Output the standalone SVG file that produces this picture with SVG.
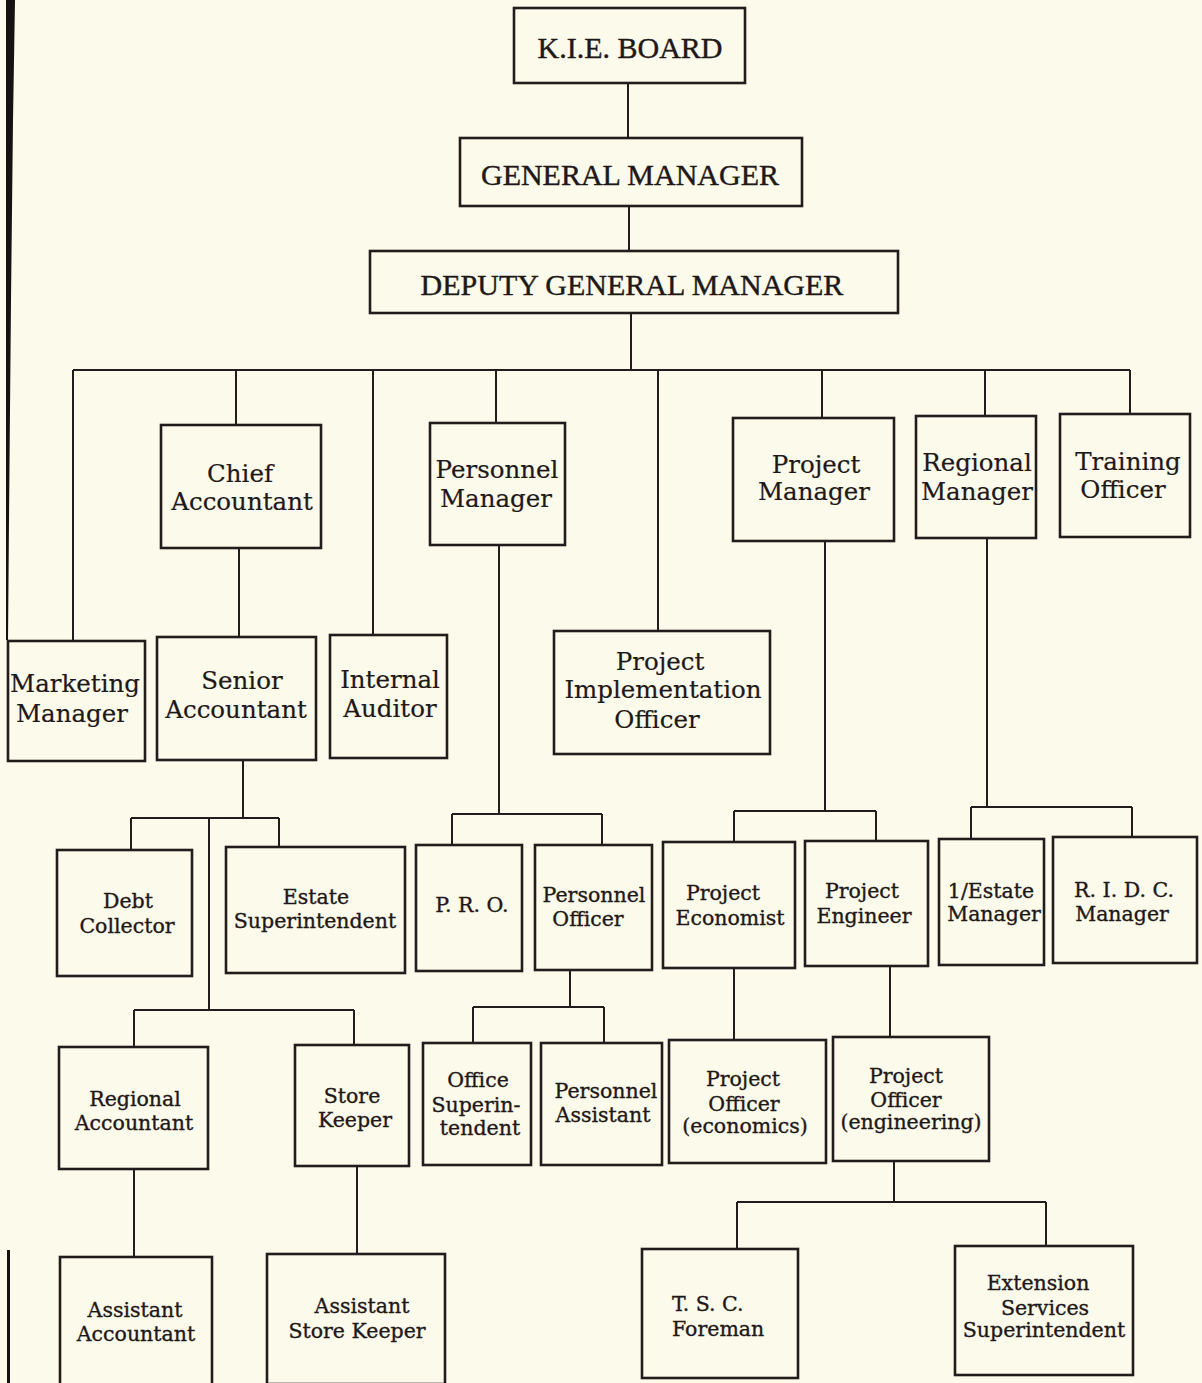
<svg xmlns="http://www.w3.org/2000/svg" width="1202" height="1383" viewBox="0 0 1202 1383">
<style>
.bx{fill:none;stroke:#231c1c;stroke-width:2.6}
.cn{fill:none;stroke:#231c1c;stroke-width:2}
.cap{font-family:"Liberation Serif","Times New Roman",serif;font-size:30px;fill:#1e1818;stroke:#1e1818;stroke-width:0.4;text-anchor:middle}
.t1{font-family:"DejaVu Serif","Liberation Serif",serif;font-size:24.5px;fill:#1e1818;stroke:#1e1818;stroke-width:0.2;text-anchor:middle}
.t2{font-family:"DejaVu Serif","Liberation Serif",serif;font-size:20.5px;fill:#1e1818;stroke:#1e1818;stroke-width:0.35;text-anchor:middle}
</style>
<rect x="0" y="0" width="1202" height="1383" fill="#fcfaea"/>
<path d="M6,0 L15,0 L13,120 L11,300 L9,520 L8,640 L6,640 Z" fill="#161212"/>
<path d="M7,1250 L10,1250 L10,1383 L7,1383 Z" fill="#161212"/>
<g id="connectors">
<path class="cn" d="M628,83 V138 M629,205 V251 M631,313 V370 M73,370 H1130"/>
<path class="cn" d="M73,370 V641 M236,370 V425 M373,370 V635 M496,370 V423 M658,370 V631 M822,370 V418 M985,370 V416 M1130,370 V414"/>
<path class="cn" d="M239,548 V637"/>
<path class="cn" d="M243,760 V818 M131,818 H279 M131,818 V850 M279,818 V847 M209,818 V1010 M134,1010 H354 M134,1010 V1047 M354,1010 V1045"/>
<path class="cn" d="M499,545 V814 M452,814 H602 M452,814 V845 M602,814 V845" stroke-width="2.6"/>
<path class="cn" d="M570,970 V1007 M473,1007 H604 M473,1007 V1043 M604,1007 V1043"/>
<path class="cn" d="M825,541 V811 M734,811 H876 M734,811 V842 M876,811 V841"/>
<path class="cn" d="M734,968 V1040 M890,966 V1037"/>
<path class="cn" d="M894,1161 V1202 M737,1202 H1046 M737,1202 V1249 M1046,1202 V1246"/>
<path class="cn" d="M987,538 V807 M971,807 H1132 M971,807 V839 M1132,807 V837"/>
<path class="cn" d="M134,1169 V1257 M357,1166 V1254"/>
</g>
<g id="kie-board"><rect class="bx" x="514" y="8" width="231" height="75"/><text class="cap" x="630" y="58">K.I.E. BOARD</text></g>
<g id="general-manager"><rect class="bx" x="460" y="138" width="342" height="68"/><text class="cap" x="630" y="185">GENERAL MANAGER</text></g>
<g id="deputy-general-manager"><rect class="bx" x="370" y="251" width="528" height="62"/><text class="cap" x="632" y="295">DEPUTY GENERAL MANAGER</text></g>
<g id="chief-accountant"><rect class="bx" x="161" y="425" width="160" height="123"/><text class="t1" x="240" y="482">Chief</text><text class="t1" x="242" y="510">Accountant</text></g>
<g id="personnel-manager"><rect class="bx" x="430" y="423" width="135" height="122"/><text class="t1" x="497" y="478">Personnel</text><text class="t1" x="496" y="507">Manager</text></g>
<g id="project-manager"><rect class="bx" x="733" y="418" width="161" height="123"/><text class="t1" x="816" y="473">Project</text><text class="t1" x="814" y="500">Manager</text></g>
<g id="regional-manager"><rect class="bx" x="916" y="416" width="120" height="122"/><text class="t1" x="977" y="471">Regional</text><text class="t1" x="977" y="500">Manager</text></g>
<g id="training-officer"><rect class="bx" x="1060" y="414" width="130" height="123"/><text class="t1" x="1128" y="470">Training</text><text class="t1" x="1123" y="498">Officer</text></g>
<g id="marketing-manager"><rect class="bx" x="8" y="641" width="137" height="120"/><text class="t1" x="75" y="692">Marketing</text><text class="t1" x="72" y="722">Manager</text></g>
<g id="senior-accountant"><rect class="bx" x="157" y="637" width="159" height="123"/><text class="t1" x="242" y="689">Senior</text><text class="t1" x="236" y="718">Accountant</text></g>
<g id="internal-auditor"><rect class="bx" x="330" y="635" width="117" height="123"/><text class="t1" x="390" y="688">Internal</text><text class="t1" x="390" y="717">Auditor</text></g>
<g id="project-implementation-officer"><rect class="bx" x="554" y="631" width="216" height="123"/><text class="t1" x="660" y="670">Project</text><text class="t1" x="663" y="698">Implementation</text><text class="t1" x="657" y="728">Officer</text></g>
<g id="debt-collector"><rect class="bx" x="57" y="850" width="135" height="126"/><text class="t2" x="128" y="908">Debt</text><text class="t2" x="127" y="933">Collector</text></g>
<g id="estate-superintendent"><rect class="bx" x="226" y="847" width="179" height="126"/><text class="t2" x="316" y="904">Estate</text><text class="t2" x="315" y="928">Superintendent</text></g>
<g id="pro"><rect class="bx" x="416" y="845" width="106" height="126"/><text class="t2" x="472" y="912">P. R. O.</text></g>
<g id="personnel-officer"><rect class="bx" x="535" y="845" width="117" height="125"/><text class="t2" x="594" y="902">Personnel</text><text class="t2" x="588" y="926">Officer</text></g>
<g id="project-economist"><rect class="bx" x="663" y="842" width="132" height="126"/><text class="t2" x="723" y="900">Project</text><text class="t2" x="730" y="925">Economist</text></g>
<g id="project-engineer"><rect class="bx" x="805" y="841" width="123" height="125"/><text class="t2" x="862" y="898">Project</text><text class="t2" x="864" y="923">Engineer</text></g>
<g id="estate-manager"><rect class="bx" x="939" y="839" width="105" height="126"/><text class="t2" x="991" y="898">1/Estate</text><text class="t2" x="994" y="921">Manager</text></g>
<g id="ridc-manager"><rect class="bx" x="1053" y="837" width="144" height="126"/><text class="t2" x="1124" y="897">R. I. D. C.</text><text class="t2" x="1122" y="921">Manager</text></g>
<g id="regional-accountant"><rect class="bx" x="59" y="1047" width="149" height="122"/><text class="t2" x="135" y="1106">Regional</text><text class="t2" x="134" y="1130">Accountant</text></g>
<g id="store-keeper"><rect class="bx" x="295" y="1045" width="114" height="121"/><text class="t2" x="352" y="1103">Store</text><text class="t2" x="355" y="1127">Keeper</text></g>
<g id="office-superintendent"><rect class="bx" x="423" y="1043" width="108" height="122"/><text class="t2" x="478" y="1087">Office</text><text class="t2" x="476" y="1112">Superin-</text><text class="t2" x="480" y="1135">tendent</text></g>
<g id="personnel-assistant"><rect class="bx" x="541" y="1043" width="121" height="122"/><text class="t2" x="606" y="1098">Personnel</text><text class="t2" x="603" y="1122">Assistant</text></g>
<g id="project-officer-economics"><rect class="bx" x="669" y="1040" width="157" height="123"/><text class="t2" x="743" y="1086">Project</text><text class="t2" x="744" y="1111">Officer</text><text class="t2" x="745" y="1133">(economics)</text></g>
<g id="project-officer-engineering"><rect class="bx" x="833" y="1037" width="156" height="124"/><text class="t2" x="906" y="1083">Project</text><text class="t2" x="906" y="1107">Officer</text><text class="t2" x="911" y="1129">(engineering)</text></g>
<g id="assistant-accountant"><rect class="bx" x="60" y="1257" width="152" height="130"/><text class="t2" x="135" y="1317">Assistant</text><text class="t2" x="136" y="1341">Accountant</text></g>
<g id="assistant-store-keeper"><rect class="bx" x="267" y="1254" width="178" height="130"/><text class="t2" x="362" y="1313">Assistant</text><text class="t2" x="357" y="1338">Store Keeper</text></g>
<g id="tsc-foreman"><rect class="bx" x="642" y="1249" width="156" height="129"/><text class="t2" x="672" y="1311" style="text-anchor:start">T. S. C.</text><text class="t2" x="672" y="1336" style="text-anchor:start">Foreman</text></g>
<g id="extension-services-superintendent"><rect class="bx" x="955" y="1246" width="178" height="129"/><text class="t2" x="1038" y="1290">Extension</text><text class="t2" x="1045" y="1315">Services</text><text class="t2" x="1044" y="1337">Superintendent</text></g>
</svg>
